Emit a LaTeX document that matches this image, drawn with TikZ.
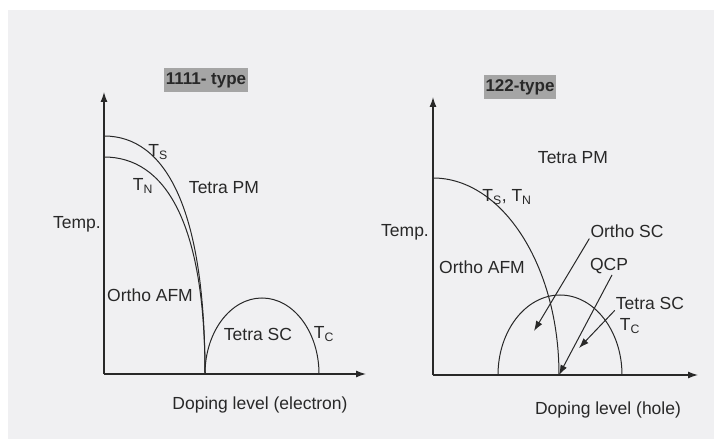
\documentclass[tikz,border=0pt]{standalone}
\usepackage{fontspec}
\setmainfont{Liberation Sans}
\usetikzlibrary{arrows.meta,positioning}
\definecolor{ink}{RGB}{40,40,40}
\definecolor{sheet}{RGB}{240,240,242}
\definecolor{tag}{RGB}{165,165,165}
\tikzset{
	lbl/.style={inner sep=1pt,font=\fontsize{17.5}{20}\selectfont,text=ink},
	ttl/.style={fill=tag,inner xsep=2pt,inner ysep=4pt,font=\fontsize{17}{20}\selectfont\bfseries,text=ink},
	axis/.style={-{Latex[length=10pt,width=7pt]},line width=1.3pt,draw=ink},
	crv/.style={line width=1pt,draw=ink},
	arr/.style={-{Latex[length=10pt,width=7pt]},line width=1pt,draw=ink}
}

\begin{document}
\begin{tikzpicture}[x=1pt,y=1pt]
	\fill[white] (0,0) rectangle (714,439);
	\fill[sheet] (8,0) rectangle (714,429);
	\useasboundingbox (0,0) rectangle (714,439);
	% 1111-type, electron doping
	\coordinate (o1) at (104,65);
	\coordinate (y1) at (104,347);
	\coordinate (x1) at (366,65);
	\coordinate (d1) at (205,65);
	\draw[axis] (o1) -- (y1);
	\draw[axis] (o1) -- (x1);
	\draw[crv] (104,303) .. controls (165,303) and (205,232) .. (d1);
	\draw[crv] (104,282) .. controls (165,282) and (205,217) .. (d1);
	\draw[crv] (d1) arc[start angle=180,end angle=0,x radius=57,y radius=76];
	\node[ttl] (t1) at (206,359) {1111- type};
	\node[lbl] (ts1) at (158,287) {T\textsubscript{S}};
	\node[lbl] (tn1) at (143,253) {T\textsubscript{N}};
	\node[lbl] (tpm1) at (224,251) {Tetra PM};
	\node[lbl] (temp1) at (77,215) {Temp.};
	\node[lbl] (oafm1) at (150,144) {Ortho AFM};
	\node[lbl] (tsc1) at (258,105) {Tetra SC};
	\node[lbl] (tc1) at (324,105) {T\textsubscript{C}};
	\node[lbl] (dop1) at (260,34) {Doping level (electron)};
	% 122-type, hole doping
	\coordinate (o2) at (433,64);
	\coordinate (y2) at (433,342);
	\coordinate (x2) at (698,64);
	\coordinate (qcp) at (559,64);
	\draw[axis] (o2) -- (y2);
	\draw[axis] (o2) -- (x2);
	\draw[crv] (433,261) arc[start angle=90,end angle=0,x radius=126,y radius=197];
	\draw[crv] (498,64) arc[start angle=180,end angle=0,x radius=62,y radius=80];
	\node[ttl] (t2) at (520,352) {122-type};
	\node[lbl] (tpm2) at (573,281) {Tetra PM};
	\node[lbl] (tstn) at (507,242) {T\textsubscript{S}, T\textsubscript{N}};
	\node[lbl] (temp2) at (405,207) {Temp.};
	\node[lbl] (oafm2) at (482,172) {Ortho AFM};
	\node[lbl] (osc) at (627,208) {Ortho SC};
	\node[lbl] (qcplbl) at (609,173) {QCP};
	\node[lbl] (tsc2) at (650,136) {Tetra SC};
	\node[lbl] (tc2) at (630,113) {T\textsubscript{C}};
	\node[lbl] (dop2) at (608,29) {Doping level (hole)};
	\coordinate (osctip) at (534,108);
	\coordinate (tsctip) at (579,91);
	\draw[arr] (osc.south west) -- (osctip);
	\draw[arr] ([xshift=3pt]qcplbl.south) -- (qcp);
	\draw[arr] (tsc2.south west) -- (tsctip);
\end{tikzpicture}
\end{document}
